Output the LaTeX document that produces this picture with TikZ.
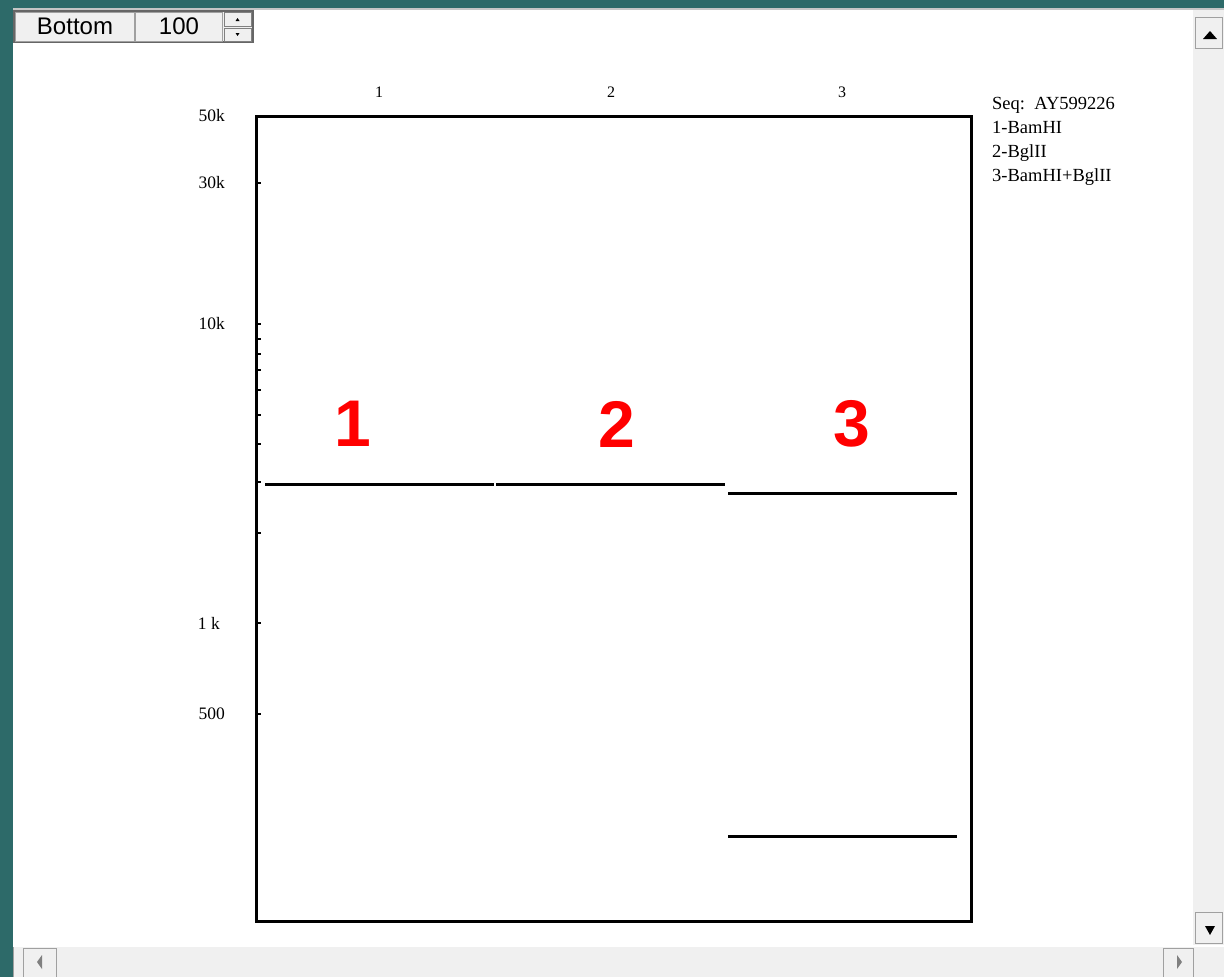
\documentclass[tikz,border=0pt]{standalone}
\usepackage{fontspec}
\setmainfont{Liberation Serif}
\newfontfamily\arial{Liberation Sans}
\definecolor{tealbg}{HTML}{2D6A69}
\definecolor{winbar}{HTML}{F0F0F0}
\definecolor{btnedge}{HTML}{A0A0A0}
\definecolor{gelred}{HTML}{FF0000}
\begin{document}
\begin{tikzpicture}[x=1pt,y=-1pt,
  ticklab/.style={anchor=east,inner sep=0pt,font=\fontsize{17.5}{17.5}\selectfont},
  lanelab/.style={inner sep=0pt,font=\fontsize{16}{16}\selectfont},
  legend/.style={anchor=base west,inner sep=0pt,font=\fontsize{18.5}{18.5}\selectfont},
  bignum/.style={inner sep=0pt,text=gelred,font=\arial\bfseries\fontsize{66}{66}\selectfont},
  band/.style={line width=3pt},
  tickmark/.style={line width=1.8pt},
  btn/.style={draw=btnedge,fill=winbar,line width=1pt},
  btntext/.style={inner sep=0pt,font=\arial\fontsize{24}{24}\selectfont}]
\useasboundingbox (0,0) rectangle (1224,977);
\fill[tealbg] (0,0) rectangle (1224,977);
\fill[white] (13,10) rectangle (1224,977);
\draw[color=btnedge!60!white,line width=1.5pt] (13,9) -- (1224,9);
% toolbar
\draw[btn,draw=gray!80!black,line width=2pt] (14,11) rectangle (253,42);
\draw[btn] (15,12) rectangle (134,41);
\node[btntext] (bottom) at (75,26) {Bottom};
\draw[btn] (135,12) rectangle (222,41);
\node[btntext] (hundred) at (179,26) {100};
\draw[btn,draw=gray] (224,12) rectangle (251,26);
\draw[btn,draw=gray] (224,28) rectangle (251,41);
\fill (237.5,18) -- (235.5,21) -- (239.5,21) -- cycle;
\fill (237.5,36) -- (235.5,33) -- (239.5,33) -- cycle;
% right scrollbar
\fill[winbar] (1193,10) rectangle (1224,945);
\draw[btn] (1195,17) rectangle (1222,48);
\fill (1210,31) -- (1203,39) -- (1217,39) -- cycle;
\draw[btn] (1195,912) rectangle (1222,943);
\fill (1210,935) -- (1205,926) -- (1215,926) -- cycle;
% bottom scrollbar
\fill[winbar] (13,947) rectangle (1224,977);
\draw[btn] (13,947) -- (13,977);
\draw[btn] (23,948) rectangle (56,977);
\fill[gray] (37,962) -- (42,955) -- (42,969) -- cycle;
\draw[btn] (1163,948) rectangle (1193,977);
\fill[gray] (1182,962) -- (1177,955) -- (1177,969) -- cycle;
% gel frame
\draw[line width=3pt] (256,116) rectangle (971,921);
% ticks
\foreach \yy in {183,324,339,354,370,390,415,444,482,533,623,714}
  \draw[tickmark] (256,\yy) -- (261,\yy);
\node[ticklab] (l50k) at (225,116) {50k};
\node[ticklab] (l30k) at (225,183) {30k};
\node[ticklab] (l10k) at (225,324) {10k};
\node[ticklab] (l1k) at (220,623) {1 k};
\node[ticklab] (l500) at (225,714) {500};
% lane labels
\node[lanelab] (lane1) at (379,92) {1};
\node[lanelab] (lane2) at (611,92) {2};
\node[lanelab] (lane3) at (842,92) {3};
% bands
\coordinate (b1a) at (265,484); \coordinate (b1b) at (494,484);
\coordinate (b2a) at (496,484); \coordinate (b2b) at (725,484);
\coordinate (b3a) at (728,493); \coordinate (b3b) at (957,493);
\coordinate (b4a) at (728,836); \coordinate (b4b) at (957,836);
\draw[band] (b1a) -- (b1b);
\draw[band] (b2a) -- (b2b);
\draw[band] (b3a) -- (b3b);
\draw[band] (b4a) -- (b4b);
% big red numbers
\node[bignum] (big1) at (353,424) {1};
\node[bignum] (big2) at (617,424) {2};
\node[bignum] (big3) at (852,424) {3};
% legend
\node[legend] (seq) at (992,109) {Seq:\ \ AY599226};
\node[legend] (leg1) at (992,133) {1-BamHI};
\node[legend] (leg2) at (992,157) {2-BglII};
\node[legend] (leg3) at (992,181) {3-BamHI+BglII};
\end{tikzpicture}
\end{document}
